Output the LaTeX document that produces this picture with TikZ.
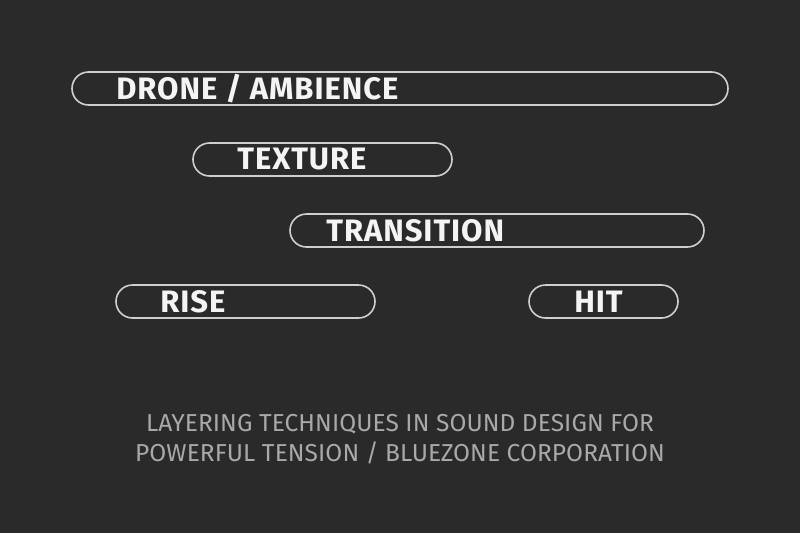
\documentclass[tikz,border=0pt]{standalone}
\usepackage{fontspec}
\setmainfont{Fira Sans}
\usepackage{tikz}
\usetikzlibrary{positioning}

\definecolor{board}{HTML}{2A2A2A}
\definecolor{rim}{HTML}{CFCFCF}
\definecolor{ink}{HTML}{F4F4F4}
\definecolor{caption}{HTML}{A9A9A9}

\tikzset{
    layerbox/.style={draw=rim, line width=1.6pt, rounded corners=16.5pt,
        minimum height=33pt, inner sep=0pt},
    layertext/.style={text=ink, inner sep=0pt, anchor=west,
        font=\fontsize{31}{36}\selectfont\bfseries\addfontfeature{LetterSpace=3}},
    captiontext/.style={text=caption, align=center,
        font=\fontsize{24.5}{30}\selectfont\addfontfeature{LetterSpace=0.3}}
}

\begin{document}
\begin{tikzpicture}[x=1pt, y=-1pt]
    \fill [board] (0, 0) rectangle (800, 533);
    \useasboundingbox (0, 0) rectangle (800, 533);
    % layer bars
    \node [layerbox, minimum width=656pt] (drone) at (400, 88.5) {};
    \node [layerbox, minimum width=259pt] (texture) at (322.5, 159.5) {};
    \node [layerbox, minimum width=414pt] (transition) at (497, 230.5) {};
    \node [layerbox, minimum width=259pt] (rise) at (245.5, 301.5) {};
    \node [layerbox, minimum width=149pt] (hit) at (603.5, 301.5) {};
    % bar labels
    \node [layertext, right=45pt of drone.west] (dronelabel) {DRONE / AMBIENCE};
    \node [layertext, right=45pt of texture.west] (texturelabel) {TEXTURE};
    \node [layertext, right=37pt of transition.west] (transitionlabel) {TRANSITION};
    \node [layertext, right=45pt of rise.west] (riselabel) {RISE};
    \node [layertext, right=46pt of hit.west] (hitlabel) {HIT};
    % caption
    \node [captiontext] (title) at (400, 439)
        {LAYERING TECHNIQUES IN SOUND DESIGN FOR\\POWERFUL TENSION / BLUEZONE CORPORATION};
\end{tikzpicture}
\end{document}
